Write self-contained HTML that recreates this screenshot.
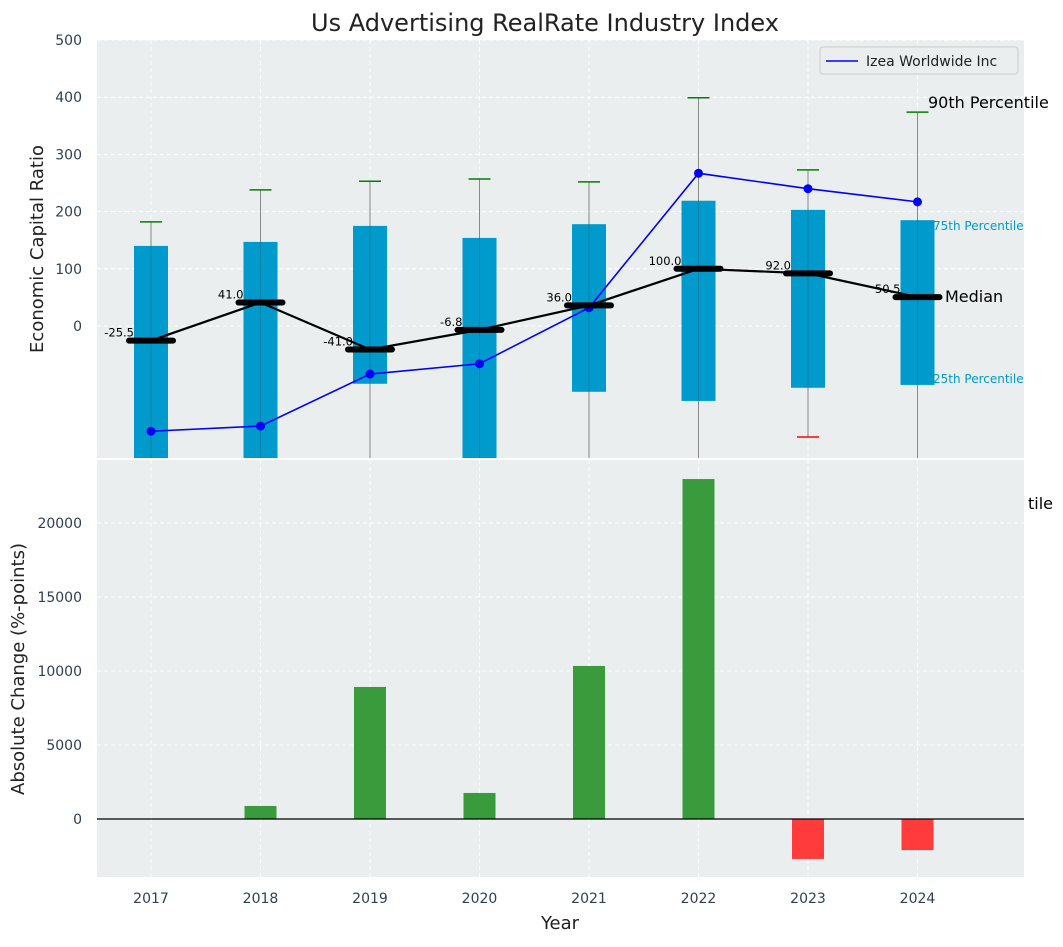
<!DOCTYPE html>
<html><head><meta charset="utf-8"><style>
body{margin:0;background:#fff;font-family:"Liberation Sans","DejaVu Sans",sans-serif}
svg text{font-family:"DejaVu Sans","Liberation Sans",sans-serif}
</style></head><body>
<svg id="c" width="1063" height="942" xmlns="http://www.w3.org/2000/svg"></svg>
<script>
const years=[2017,2018,2019,2020,2021,2022,2023,2024];
const p25=[-260,-260,-101,-260,-115,-131,-108,-103];
const p75=[140,147,175,154,178,219,203,185];
const p90=[182,238,253,257,252,399,273,374];
const p10=[-300,-300,-300,-300,-300,-300,-194,-300];
const medians=[-25.5,41,-41,-6.8,36,100,92,50.5];
const izea=[-184,-175,-84,-66,32,267,240,217];
const absChange=[0,880,8920,1760,10340,22970,-2700,-2100];
const topTicks=[0,100,200,300,400,500];
const botTicks=[0,5000,10000,15000,20000];
const NS="http://www.w3.org/2000/svg";
const svg=document.getElementById('c');
function el(t,a,p){const e=document.createElementNS(NS,t);for(const k in a)e.setAttribute(k,a[k]);(p||svg).appendChild(e);return e;}
const L=97,R=1024;
const xs=i=>151+i*109.5;
const yT=v=>326-v*0.572;
const yB=v=>819-v*0.0148;
let bg=el('rect',{x:L,y:40,width:R-L,height:418,fill:'#eaeeee'});

let bg2=el('rect',{x:L,y:460,width:R-L,height:417,fill:'#eaeeee'});

const defs=el('defs',{});
let cp=el('clipPath',{id:'ct'},defs);el('rect',{x:L,y:40,width:R-L,height:418},cp);
years.forEach((y,i)=>{
 el('line',{x1:xs(i),x2:xs(i),y1:40,y2:458,stroke:'#fff','stroke-dasharray':'4,3','stroke-width':1});
 el('line',{x1:xs(i),x2:xs(i),y1:460,y2:877,stroke:'#fff','stroke-dasharray':'4,3','stroke-width':1});
 let t=el('text',{x:xs(i),y:903,'text-anchor':'middle','font-size':14,fill:'#2e3f55'});t.textContent=y;
 
});
topTicks.forEach(v=>{
 el('line',{x1:L,x2:R,y1:yT(v),y2:yT(v),stroke:'#fff','stroke-dasharray':'4,3'});
 let t=el('text',{x:82,y:yT(v)+5,'text-anchor':'end','font-size':14,fill:'#2e3f55'});t.textContent=v;
 
});
botTicks.forEach(v=>{
 el('line',{x1:L,x2:R,y1:yB(v),y2:yB(v),stroke:'#fff','stroke-dasharray':'4,3'});
 let t=el('text',{x:82,y:yB(v)+5,'text-anchor':'end','font-size':14,fill:'#2e3f55'});t.textContent=v;
 
});
const topG=el('g',{'clip-path':'url(#ct)'});
years.forEach((y,i)=>{
 const x=xs(i);
 let w=el('line',{x1:x,x2:x,y1:yT(p90[i]),y2:yT(p10[i]),stroke:'#888','stroke-width':1},topG);
 
 let b=el('rect',{x:x-17,y:yT(p75[i]),width:34,height:yT(p25[i])-yT(p75[i]),fill:'#009acd'},topG);
 
 el('line',{x1:x,x2:x,y1:yT(p75[i]),y2:yT(p25[i]),stroke:'#1d6f8a','stroke-width':1,opacity:0.6},topG);
 el('line',{x1:x-11,x2:x+11,y1:yT(p90[i]),y2:yT(p90[i]),stroke:'green','stroke-width':1.5},topG);
 el('line',{x1:x-11,x2:x+11,y1:yT(p10[i]),y2:yT(p10[i]),stroke:'red','stroke-width':1.5},topG);
});
let ip=izea.map((v,i)=>xs(i)+','+yT(v)).join(' ');
let il=el('polyline',{points:ip,fill:'none',stroke:'#0000ff','stroke-width':1.6},topG);

izea.forEach((v,i)=>{
 let c=el('circle',{cx:xs(i),cy:yT(v),r:4.5,fill:'#0000ff'},topG);
 
});
let mp=medians.map((v,i)=>xs(i)+','+yT(v)).join(' ');
let ml=el('polyline',{points:mp,fill:'none',stroke:'#000','stroke-width':2.2},topG);

medians.forEach((v,i)=>{
 let m=el('line',{x1:xs(i)-22,x2:xs(i)+22,y1:yT(v),y2:yT(v),stroke:'#000','stroke-width':6,'stroke-linecap':'round'},topG);
 
 let t=el('text',{x:xs(i)-17,y:yT(v)-4,'text-anchor':'end','font-size':11.5,fill:'#000'},topG);t.textContent=v.toFixed(1);
 
});
const ann=[[928,108,'90th Percentile',16,'#000'],[933,230,'75th Percentile',12,'#009acd'],[945,302,'Median',16,'#000'],[933,383,'25th Percentile',12,'#009acd']];
ann.forEach(a=>{let t=el('text',{x:a[0],y:a[1],'font-size':a[3],fill:a[4]});t.textContent=a[2];
 });
let tl=el('text',{x:1053,y:509,'text-anchor':'end','font-size':16,fill:'#000'});tl.textContent='tile';

let lg=el('rect',{x:820,y:47,width:198,height:27,fill:'#eaeeee',stroke:'#ccc',rx:3});

el('line',{x1:826,x2:858,y1:61,y2:61,stroke:'#0000ff','stroke-width':1.6});
let lt=el('text',{x:866,y:66,'font-size':14,fill:'#222'});lt.textContent='Izea Worldwide Inc';

absChange.forEach((v,i)=>{
 const y0=yB(0),y1=yB(v);
 let b=el('rect',{x:xs(i)-16,y:Math.min(y0,y1),width:32,height:Math.abs(y1-y0),fill:v>=0?'#3a9b3d':'#ff3b3b'});
 
});
el('line',{x1:L,x2:R,y1:yB(0),y2:yB(0),stroke:'#000','stroke-width':1.2});
let tt=el('text',{x:545,y:31,'text-anchor':'middle','font-size':24,fill:'#222'});tt.textContent='Us Advertising RealRate Industry Index';

let y1t=el('text',{x:43,y:249,'text-anchor':'middle','font-size':18,fill:'#222',transform:'rotate(-90 43 249)'});y1t.textContent='Economic Capital Ratio';

let y2t=el('text',{x:24,y:669,'text-anchor':'middle','font-size':18,fill:'#222',transform:'rotate(-90 24 669)'});y2t.textContent='Absolute Change (%-points)';

let xt=el('text',{x:560,y:929,'text-anchor':'middle','font-size':18,fill:'#222'});xt.textContent='Year';

</script>
</body></html>
